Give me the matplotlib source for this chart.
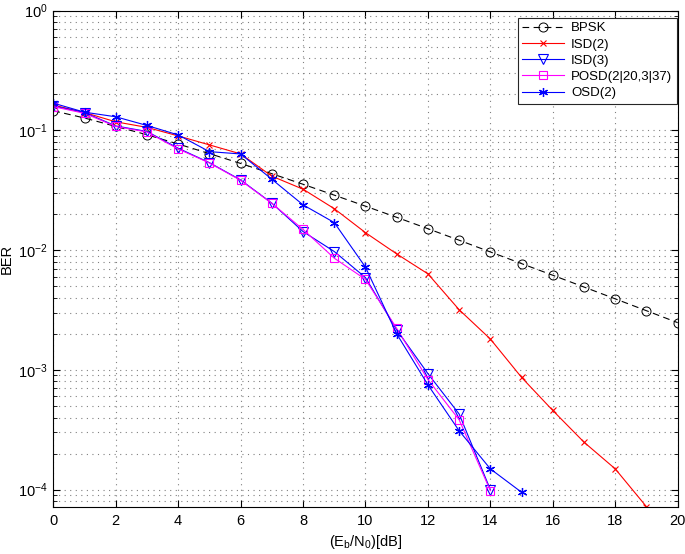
import matplotlib
matplotlib.use("Agg")
import matplotlib.pyplot as plt
from matplotlib.ticker import LogLocator, NullFormatter

plt.rcParams['font.family'] = ['Liberation Sans', 'DejaVu Sans']
plt.rcParams['mathtext.fontset'] = 'custom'
plt.rcParams['mathtext.rm'] = 'Liberation Sans'
plt.rcParams['mathtext.it'] = 'Liberation Sans:italic'
plt.rcParams['mathtext.sf'] = 'Liberation Sans'

snr_bpsk = list(range(0, 21))
ber_bpsk = [0.146, 0.127, 0.108, 0.092, 0.077, 0.064, 0.053, 0.0435, 0.0355, 0.0288,
            0.0233, 0.0188, 0.0151, 0.0121, 0.00966, 0.00772, 0.00617, 0.00492,
            0.00392, 0.00312, 0.00248]

snr_isd2 = list(range(0, 20))
ber_isd2 = [0.163, 0.141, 0.118, 0.106, 0.090, 0.0757, 0.0637, 0.0415, 0.0323, 0.0222,
            0.0140, 0.0093, 0.00634, 0.00318, 0.00181, 8.65e-4, 4.58e-4, 2.49e-4,
            1.49e-4, 7.2e-5]

snr_isd3 = list(range(0, 15))
ber_isd3 = [0.160, 0.141, 0.109, 0.098, 0.071, 0.0538, 0.0386, 0.0247, 0.0143, 0.00974,
            0.0059, 0.00216, 9.3e-4, 4.28e-4, 1.0e-4]

snr_posd = list(range(0, 15))
ber_posd = [0.158, 0.139, 0.108, 0.097, 0.070, 0.0535, 0.0383, 0.0246, 0.0149, 0.00857,
            0.0057, 0.00222, 8.3e-4, 3.83e-4, 9.8e-5]

snr_osd2 = list(range(0, 16))
ber_osd2 = [0.169, 0.142, 0.130, 0.110, 0.0917, 0.0665, 0.0636, 0.0391, 0.0239, 0.0170,
            0.00721, 0.0020, 7.5e-4, 3.1e-4, 1.49e-4, 9.5e-5]

fig = plt.figure(figsize=(6.85, 5.54), dpi=100)
ax = fig.add_axes([0.0778, 0.0854, 0.9115, 0.8953])

lw = 0.8
asterisk = (6, 2, 0)
ax.semilogy(snr_bpsk, ber_bpsk, linestyle=(0, (6, 4)), color='black', lw=lw,
            marker='o', mfc='none', ms=6.5, mew=0.7, label='BPSK')
ax.semilogy(snr_isd2, ber_isd2, '-', color='#ff0000', lw=lw, marker='x', ms=5, mew=0.8,
            label='ISD(2)')
ax.semilogy(snr_isd3, ber_isd3, '-', color='#0000ff', lw=lw, marker='v', mfc='none',
            ms=6.5, mew=0.8, label='ISD(3)')
ax.semilogy(snr_posd, ber_posd, '-', color='#ff00ff', lw=lw, marker='s', mfc='none',
            ms=5.5, mew=0.8, label='POSD(2|20,3|37)')
ax.semilogy(snr_osd2, ber_osd2, '-', color='#0000ff', lw=lw, marker=asterisk, ms=6.5,
            mew=0.9, label='OSD(2)')

ax.set_xlim(0, 20)
ax.set_ylim(7.2e-5, 1)
ax.set_xticks(list(range(0, 21, 2)))
ax.yaxis.set_major_locator(LogLocator(base=10, numticks=10))
ax.yaxis.set_minor_locator(LogLocator(base=10, subs=[2, 3, 4, 5, 6, 7, 8, 9], numticks=20))
ax.yaxis.set_minor_formatter(NullFormatter())

grid_ls = (0, (1, 4))
ax.grid(True, which='major', linestyle=grid_ls, color='0.5', lw=0.8)
ax.grid(True, which='minor', axis='y', linestyle=grid_ls, color='0.5', lw=0.8)
ax.tick_params(which='both', direction='in', top=True, right=True, labelsize=10.5)
ax.tick_params(axis='y', which='major', pad=4)
ax.tick_params(axis='x', which='major', pad=5)
ax.tick_params(which='major', length=5)
ax.tick_params(which='minor', length=3)
for s in ax.spines.values():
    s.set_linewidth(0.8)

ax.set_xlabel(r'(E$_\mathrm{b}$/N$_\mathrm{0}$)[dB]', fontsize=10.5, labelpad=4)
ax.set_ylabel('BER', fontsize=10.5)
ax.yaxis.set_label_coords(-0.064, 0.5)

leg = ax.legend(loc='upper right', bbox_to_anchor=(0.9985, 0.986), fontsize=9.5,
                fancybox=False, edgecolor='0.15', framealpha=1, handlelength=3.2,
                borderpad=0.35, labelspacing=0.3, handletextpad=0.5, numpoints=1,
                borderaxespad=0.0)
leg.get_frame().set_linewidth(0.8)

fig.savefig('out.png', dpi=100)
